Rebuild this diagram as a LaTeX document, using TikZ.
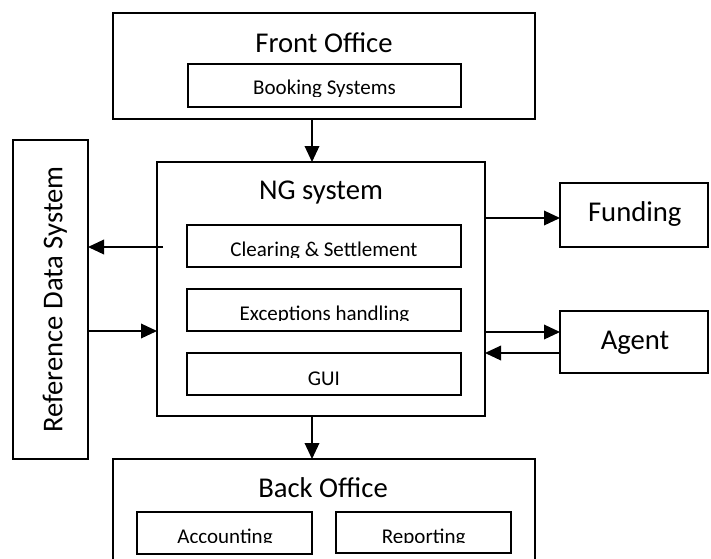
\documentclass[tikz,border=0pt]{standalone}
\usepackage{fontspec}
\setmainfont{Carlito}
\usetikzlibrary{arrows.meta,calc}
\begin{document}
\begin{tikzpicture}[x=0.75pt,y=-0.75pt,
  box/.style={draw,line width=1.4pt,rectangle,inner sep=0pt,outer sep=0pt},
  big/.style={font=\fontsize{21.5}{24}\selectfont,inner sep=0pt,anchor=base},
  small/.style={font=\fontsize{15.75}{18}\selectfont,inner sep=0pt,anchor=base},
  arr/.style={line width=1pt,-{Triangle[length=12pt,width=11pt]}}]
\clip (0,0) rectangle (711,558);
\fill[white] (0,0) rectangle (711,558);

% Front office
\node[box,minimum width=316.5pt,minimum height=79.5pt] (fo) at (324,66) {};
\node[big] (fot) at (324,52) {Front Office};
\node[box,minimum width=204.75pt,minimum height=32.25pt] (book) at (324.5,85.5) {};
\begin{scope}
  \clip (188,64) rectangle (461,96.7);
  \node[small] (bookt) at (324.5,94.3) {Booking Systems};
\end{scope}

% NG system
\node[box,minimum width=246pt,minimum height=190.5pt] (ng) at (321,289) {};
\node[big] (ngt) at (321,199.3) {NG system};
\node[box,minimum width=205.5pt,minimum height=31.5pt] (clr) at (324,246) {};
\begin{scope}
  \clip (187,225) rectangle (461,257.7);
  \node[small] (clrt) at (324,256.7) {Clearing \& Settlement};
\end{scope}
\node[box,minimum width=205.5pt,minimum height=31.5pt] (exc) at (324,310) {};
\begin{scope}
  \clip (187,289) rectangle (461,320.3);
  \node[small] (exct) at (324.5,320.5) {Exceptions handling};
\end{scope}
\node[box,minimum width=205.5pt,minimum height=31.5pt] (gui) at (324,374) {};
\node[small] (guit) at (324,385) {GUI};

% Reference data system
\node[box,minimum width=56.25pt,minimum height=239.25pt] (ref) at (50.5,299.5) {};
\node[big,rotate=90] (reft) at (62.3,299.5) {Reference Data System};

% Funding / Agent
\node[box,minimum width=111pt,minimum height=48pt] (fund) at (634,215) {};
\node[big] (fundt) at (634.8,221.7) {Funding};
\node[box,minimum width=111pt,minimum height=46.5pt] (agent) at (634,342) {};
\node[big] (agentt) at (635,349.3) {Agent};

% Back office
\node[box,minimum width=316.5pt,minimum height=105.75pt] (bo) at (324,529.5) {};
\node[big] (bot) at (323,497.7) {Back Office};
\node[box,minimum width=131.25pt,minimum height=31.5pt] (acc) at (224.5,533) {};
\node[box,minimum width=131.25pt,minimum height=30.75pt] (rep) at (423.5,532.5) {};
\begin{scope}
  \clip (137,512) rectangle (511,542.8);
  \node[small] (acct) at (225,543.3) {Accounting};
  \node[small] (rept) at (423.7,543.3) {Reporting};
\end{scope}

% connectors
\coordinate (ax) at (312,0);
\draw[arr] (fo.south -| ax) -- (ng.north -| ax);
\draw[arr] (ng.south -| ax) -- (bo.north -| ax);
\coordinate (s1) at (163,247);
\draw[arr] (s1) -- (ref.east |- s1);
\coordinate (y2) at (0,331);
\draw[arr] (ref.east |- y2) -- (ng.west |- y2);
\coordinate (y3) at (0,218);
\draw[arr] (ng.east |- y3) -- (fund.west |- y3);
\coordinate (y4) at (0,332);
\draw[arr] (ng.east |- y4) -- (agent.west |- y4);
\coordinate (y5) at (0,353);
\draw[arr] (agent.west |- y5) -- (ng.east |- y5);
\end{tikzpicture}
\end{document}
